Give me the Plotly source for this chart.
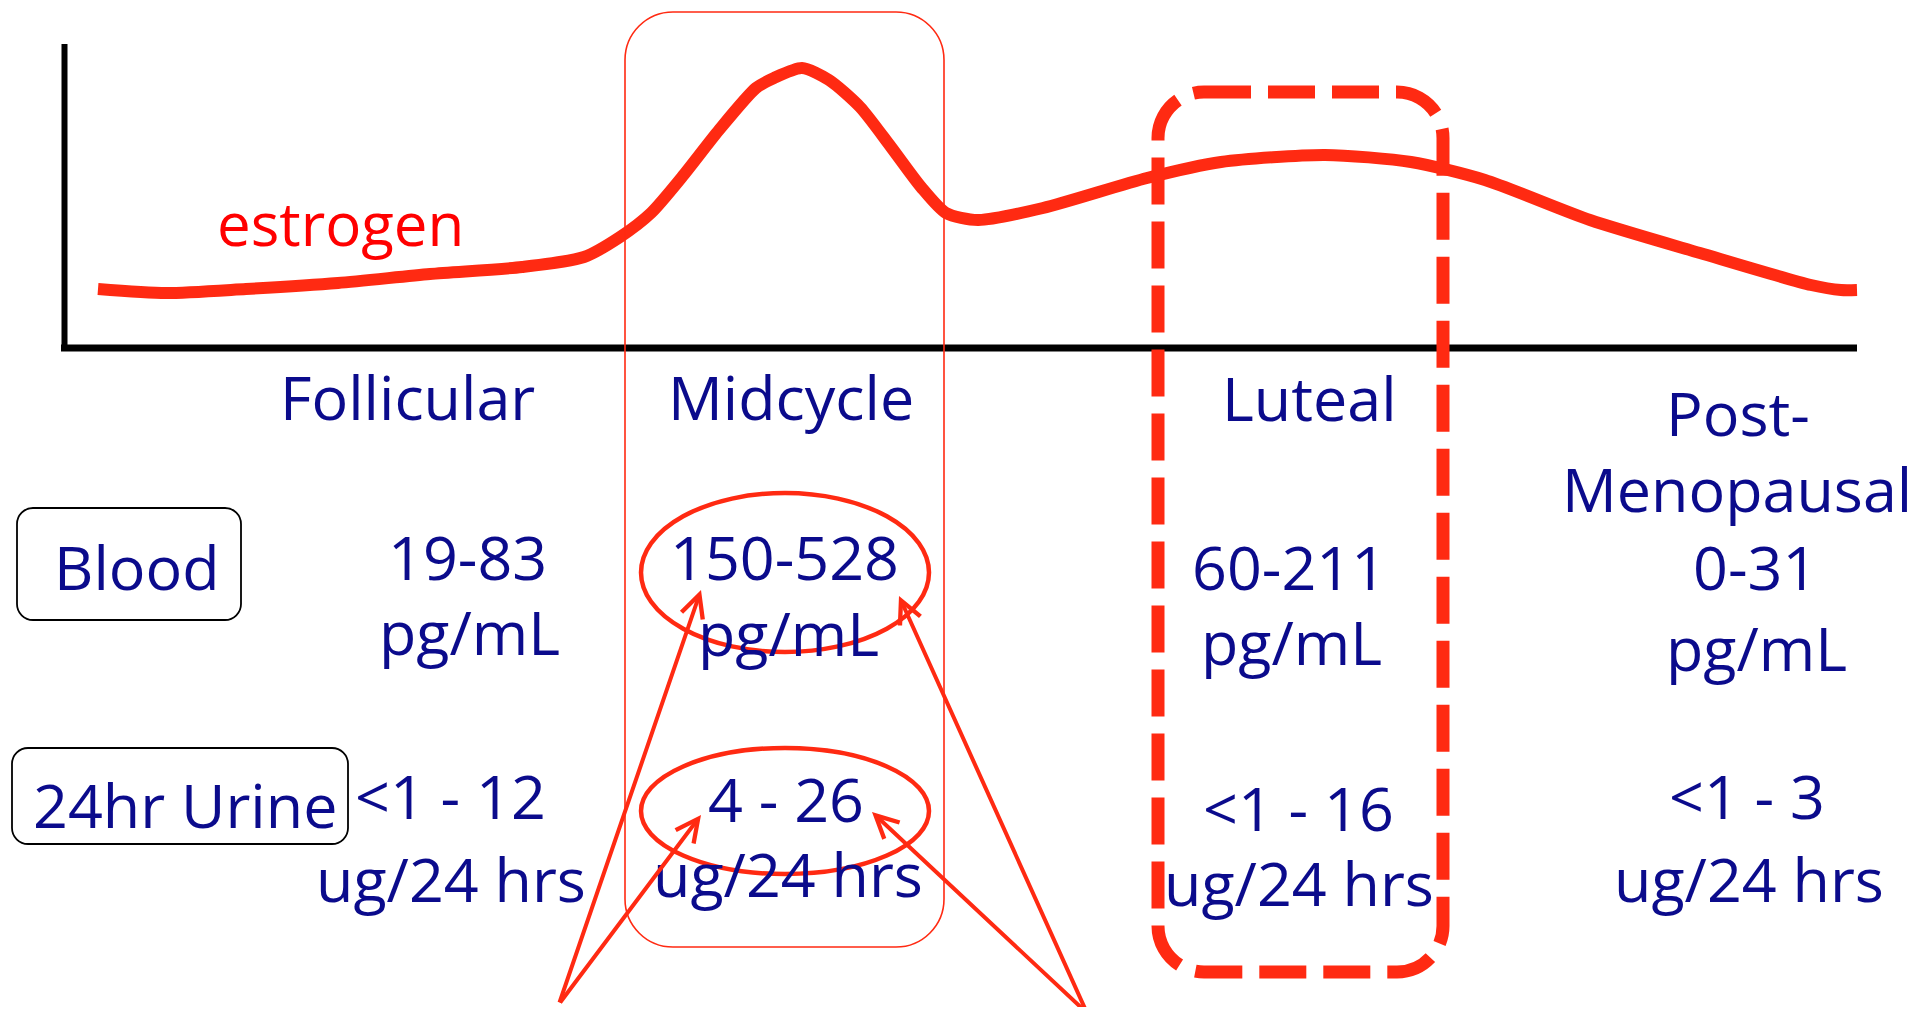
import plotly.graph_objects as go

# ---------------- data ----------------
# estrogen curve: position along the cycle (x) and relative estrogen level (height above the baseline)
cycle_x = [98, 166, 246, 338, 430, 522, 584, 620, 651, 682, 719, 756, 774, 802, 829, 860, 891,
           921, 946, 978, 1043, 1147, 1221, 1325, 1411, 1485, 1590, 1700, 1811, 1841, 1857]
estrogen_level = [59, 55, 59, 65, 74, 81, 91, 111, 135, 171, 218, 260, 270, 280, 268, 241, 201,
                  161, 135, 128, 140, 170, 186, 193, 186, 168, 128, 95, 63, 58, 58]

phases = ["Follicular", "Midcycle", "Luteal", "Post-", "Menopausal"]
blood_ranges = ["19-83", "150-528", "60-211", "0-31"]
blood_unit = "pg/mL"
urine_ranges = ["&lt;1 - 12", "4 - 26", "&lt;1 - 16", "&lt;1 - 3"]
urine_unit = "ug/24 hrs"
row_labels = ["Blood", "24hr Urine"]
curve_label = "estrogen"

# ---------------- layout helpers ----------------
OFF = 8          # default page margin
W, H = 1926, 1015
BASE = 348       # pixel row of the baseline (x axis)


def L(p):
    """page pixel row -> level coordinate"""
    return BASE - p


NAVY = "#0B0B8C"
RED = "#FF2A12"
FONT = "Open Sans"
FS = 61
MID = 0.388      # baseline -> box-centre offset (em) for Open Sans

fig = go.Figure()

fig.add_trace(go.Scatter(
    x=cycle_x, y=estrogen_level, mode="lines",
    line=dict(color=RED, width=12, shape="spline", smoothing=0.7),
    hoverinfo="skip", showlegend=False))


def rrect_path(x0, x1, ptop, pbot, r):
    yt, yb = L(ptop), L(pbot)
    k = 0.5523 * r
    return (f"M{x0 + r},{yt} L{x1 - r},{yt} "
            f"C{x1 - r + k},{yt} {x1},{yt - r + k} {x1},{yt - r} "
            f"L{x1},{yb + r} "
            f"C{x1},{yb + r - k} {x1 - r + k},{yb} {x1 - r},{yb} "
            f"L{x0 + r},{yb} "
            f"C{x0 + r - k},{yb} {x0},{yb + r - k} {x0},{yb + r} "
            f"L{x0},{yt - r} "
            f"C{x0},{yt - r + k} {x0 + r - k},{yt} {x0 + r},{yt} Z")


shapes = []
# axes
shapes.append(dict(type="line", x0=61, x1=1857, y0=0, y1=0, line=dict(color="black", width=7)))
shapes.append(dict(type="line", x0=64.5, x1=64.5, y0=L(351), y1=L(44), line=dict(color="black", width=6)))
# midcycle box
shapes.append(dict(type="path", path=rrect_path(625, 944, 12, 947, 48),
                   line=dict(color=RED, width=1.6), layer="above"))
# luteal dashed box
shapes.append(dict(type="path", path=rrect_path(1158, 1443, 92, 972, 46),
                   line=dict(color=RED, width=13, dash="47px,17px"), layer="above"))
# row label boxes
shapes.append(dict(type="path", path=rrect_path(17, 241, 508, 620, 16),
                   line=dict(color="black", width=1.8), layer="above"))
shapes.append(dict(type="path", path=rrect_path(12, 348, 748, 844, 16),
                   line=dict(color="black", width=1.8), layer="above"))
# ellipses
shapes.append(dict(type="circle", x0=641, x1=929, y0=L(652), y1=L(493),
                   line=dict(color=RED, width=4.5), layer="above"))
shapes.append(dict(type="circle", x0=641, x1=929, y0=L(874), y1=L(748),
                   line=dict(color=RED, width=4.5), layer="above"))

annotations = []


def txt(s, cx, baseline, color=NAVY, size=FS):
    annotations.append(dict(
        text=s, x=cx, y=L(baseline - MID * size), xref="x", yref="y",
        xanchor="center", yanchor="middle", showarrow=False,
        font=dict(family=FONT, size=size, color=color)))


# phase headings
head_pos = [(407, 420), (791, 420), (1309, 421), (1738, 436), (1737, 512)]
for s, (cx, b) in zip(phases, head_pos):
    txt(s, cx, b)

# row labels
txt(row_labels[0], 137, 590)
txt(row_labels[1], 185, 828)

# blood values
blood_pos = [(467, 580), (784, 580), (1289, 590), (1755, 590)]
blood_unit_pos = [(469, 655), (788, 656), (1291, 665), (1756, 671)]
for s, (cx, b) in zip(blood_ranges, blood_pos):
    txt(s, cx, b)
for (cx, b) in blood_unit_pos:
    txt(blood_unit, cx, b)

# urine values
urine_pos = [(450, 819), (786, 822), (1298, 831), (1747, 819)]
urine_unit_pos = [(451, 902), (788, 897), (1299, 906), (1749, 902)]
for s, (cx, b) in zip(urine_ranges, urine_pos):
    txt(s, cx, b)
for (cx, b) in urine_unit_pos:
    txt(urine_unit, cx, b)

# curve label
txt(curve_label, 340, 246, color="#FF0000", size=60)

# arrows
arrows = [((559, 1004), (701, 590)), ((559, 1004), (701, 815)),
          ((1087, 1013), (899, 596)), ((1087, 1013), (872, 812))]
for (sx, sy), (ex, ey) in arrows:
    annotations.append(dict(
        text="", x=ex, y=L(ey), ax=sx, ay=L(sy), xref="x", yref="y", axref="x", ayref="y",
        showarrow=True, arrowhead=5, arrowsize=1.1, arrowwidth=4, arrowcolor=RED,
        standoff=0, startstandoff=0))

fig.update_layout(
    width=W - 2 * OFF, height=H - 2 * OFF,
    margin=dict(l=0, r=0, t=0, b=0, pad=0),
    paper_bgcolor="white", plot_bgcolor="white",
    xaxis=dict(range=[OFF, W - OFF], visible=False, fixedrange=True),
    yaxis=dict(range=[L(H - OFF), L(OFF)], visible=False, fixedrange=True),
    shapes=shapes, annotations=annotations, showlegend=False,
)

fig.write_html("out.html", config={"displayModeBar": False})
